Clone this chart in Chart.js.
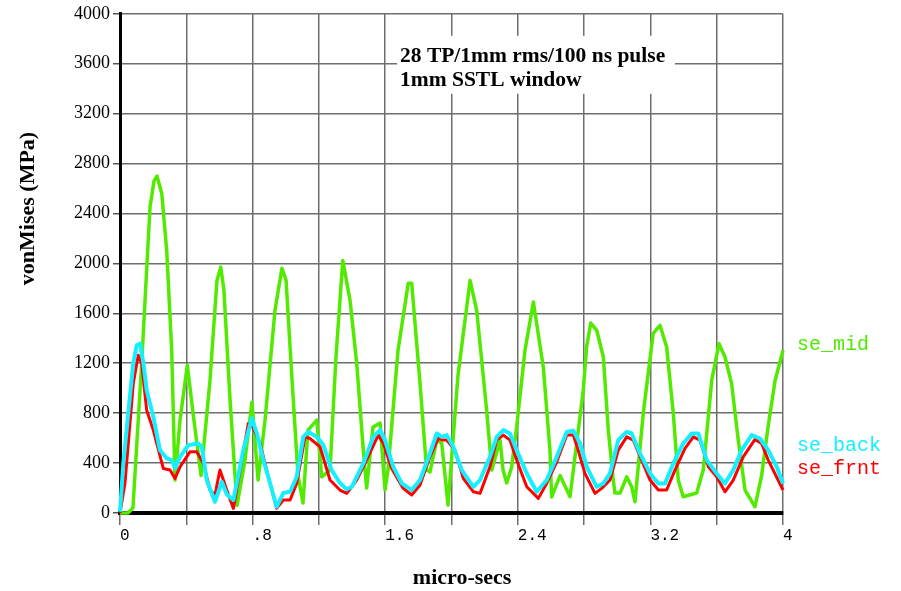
<!DOCTYPE html>
<html>
<head>
<meta charset="utf-8">
<script src="https://cdn.jsdelivr.net/npm/chart.js@4/dist/chart.umd.min.js"></script>
<style>
  html, body { margin: 0; padding: 0; background: #ffffff; }
  canvas { display: block; }
</style>
</head>
<body>
<canvas id="c" width="901" height="591"></canvas>
<script>
// Time axis (micro-secs) and von Mises stress (MPa) for each probe location.
const midT = [0, 0.048, 0.078, 0.131, 0.181, 0.205, 0.223, 0.252, 0.282, 0.312, 0.332, 0.362, 0.406, 0.446, 0.489,
  0.543, 0.585, 0.608, 0.627, 0.664, 0.706, 0.754, 0.796, 0.833, 0.875, 0.935, 0.977, 1.002, 1.038, 1.074, 1.104,
  1.134, 1.187, 1.217, 1.267, 1.303, 1.344, 1.388, 1.428, 1.468, 1.488, 1.526, 1.569, 1.599, 1.617, 1.677, 1.739,
  1.760, 1.810, 1.850, 1.870, 1.911, 1.941, 1.979, 2.039, 2.112, 2.152, 2.212, 2.243, 2.293, 2.311, 2.333, 2.363,
  2.393, 2.443, 2.494, 2.554, 2.594, 2.604, 2.655, 2.715, 2.765, 2.795, 2.815, 2.840, 2.876, 2.916, 2.946, 2.976,
  2.986, 3.017, 3.057, 3.087, 3.107, 3.157, 3.217, 3.258, 3.298, 3.338, 3.368, 3.398, 3.479, 3.519, 3.570, 3.614,
  3.650, 3.690, 3.730, 3.771, 3.831, 3.871, 3.911, 3.952, 4.000];
const midV = [0, 0, 40, 1200, 2450, 2660, 2700, 2560, 2100, 1300, 264, 744, 1184, 744, 300,
  1064, 1864, 1970, 1784, 904, 60, 424, 888, 264, 744, 1624, 1960, 1864, 1064, 300, 80,
  664, 744, 290, 344, 1250, 2024, 1704, 1200, 504, 200, 688, 720, 184, 344, 1300, 1840,
  1840, 1040, 344, 328, 584, 560, 64, 1100, 1864, 1624, 824, 344, 584, 344, 240, 368,
  688, 1300, 1690, 1168, 504, 128, 300, 130, 664, 984, 1330, 1522, 1464, 1250, 664, 264,
  160, 160, 290, 210, 90, 800, 1440, 1504, 1330, 800, 264, 130, 160, 344, 1064, 1357,
  1250, 1037, 584, 184, 50, 300, 700, 1060, 1304];

const backT = [0, 0.020, 0.050, 0.080, 0.101, 0.121, 0.141, 0.161, 0.201, 0.241, 0.282, 0.312, 0.332, 0.362, 0.412,
  0.472, 0.493, 0.523, 0.573, 0.614, 0.644, 0.684, 0.744, 0.795, 0.825, 0.865, 0.905, 0.945, 0.985, 1.026, 1.066,
  1.106, 1.136, 1.187, 1.227, 1.277, 1.327, 1.368, 1.398, 1.468, 1.528, 1.569, 1.599, 1.649, 1.700, 1.760, 1.810,
  1.870, 1.911, 1.941, 1.971, 2.011, 2.062, 2.132, 2.172, 2.232, 2.273, 2.313, 2.353, 2.393, 2.454, 2.514, 2.574,
  2.635, 2.695, 2.735, 2.775, 2.816, 2.876, 2.916, 2.956, 3.006, 3.057, 3.087, 3.137, 3.198, 3.248, 3.288, 3.338,
  3.398, 3.449, 3.489, 3.540, 3.600, 3.650, 3.700, 3.751, 3.811, 3.861, 3.911, 3.962, 4.000];
const backV = [10, 400, 800, 1200, 1344, 1357, 1200, 984, 770, 504, 437, 424, 360, 450, 544,
  557, 530, 264, 90, 250, 150, 104, 504, 760, 640, 424, 240, 50, 160, 170, 290,
  610, 650, 610, 544, 344, 240, 190, 210, 397, 610, 664, 584, 370, 237, 184, 264,
  477, 637, 610, 624, 530, 344, 210, 264, 450, 610, 664, 637, 504, 317, 170, 264,
  450, 650, 660, 560, 370, 210, 237, 317, 584, 650, 637, 477, 317, 237, 237, 397,
  557, 637, 637, 424, 317, 237, 344, 504, 624, 597, 504, 370, 237];

const frntT = [0, 0.030, 0.080, 0.110, 0.131, 0.161, 0.201, 0.261, 0.302, 0.332, 0.362, 0.422, 0.463, 0.503, 0.543,
  0.573, 0.603, 0.644, 0.684, 0.774, 0.795, 0.845, 0.885, 0.945, 0.985, 1.026, 1.066, 1.116, 1.146, 1.207, 1.267,
  1.327, 1.368, 1.428, 1.468, 1.558, 1.589, 1.639, 1.709, 1.760, 1.810, 1.870, 1.920, 1.951, 1.971, 2.021, 2.071,
  2.132, 2.172, 2.232, 2.273, 2.313, 2.353, 2.393, 2.454, 2.524, 2.574, 2.635, 2.695, 2.735, 2.765, 2.805, 2.866,
  2.906, 2.956, 3.006, 3.057, 3.097, 3.147, 3.198, 3.248, 3.298, 3.348, 3.409, 3.459, 3.499, 3.550, 3.600, 3.650,
  3.700, 3.760, 3.831, 3.871, 3.911, 4.000];
const frntV = [0, 240, 1037, 1264, 1197, 824, 664, 357, 344, 277, 370, 490, 490, 397, 184,
  144, 344, 184, 37, 717, 704, 557, 344, 37, 104, 104, 237, 610, 597, 530, 264,
  184, 157, 264, 370, 624, 557, 357, 197, 144, 224, 450, 597, 584, 584, 504, 277,
  170, 157, 370, 584, 624, 584, 424, 210, 117, 237, 410, 624, 624, 500, 317, 157,
  197, 264, 504, 610, 584, 424, 264, 184, 184, 344, 517, 610, 584, 370, 290, 170,
  264, 450, 590, 557, 424, 184];

const seriesNames = ['se_back', 'se_frnt', 'se_mid'];
const xTickLabels = ['0', '.8', '1.6', '2.4', '3.2', '4'];
const yTickLabels = ['0', '400', '800', '1200', '1600', '2000', '2400', '2800', '3200', '3600', '4000'];
const xTitle = 'micro-secs';
const yTitle = 'vonMises (MPa)';
const noteLines = ['28 TP/1mm rms/100 ns pulse', '1mm SSTL window'];

const GREEN = '#52ea00';
const CYAN = '#14f0ff';
const RED = '#ff0000';

const toPoints = (t, v) => t.map((x, i) => ({ x, y: v[i] }));

// Texts around the plot: axis titles, the note box and the series names.
const decorations = {
  id: 'decorations',
  beforeDatasetsDraw(chart) {
    const { ctx, chartArea: a } = chart;
    ctx.save();
    ctx.fillStyle = '#ffffff';
    ctx.fillRect(a.left + 277, a.top + 22, 278, 58);
    ctx.restore();
  },
  afterDatasetsDraw(chart) {
    const { ctx, chartArea: a } = chart;
    const ys = chart.scales.y;
    ctx.save();
    ctx.fillStyle = '#000000';
    ctx.textBaseline = 'alphabetic';
    ctx.textAlign = 'left';
    ctx.font = 'bold 21.5px "Liberation Serif", "Times New Roman", serif';
    ctx.fillText(noteLines[0], a.left + 280, a.top + 48);
    ctx.fillText(noteLines[1], a.left + 280, a.top + 72);

    // axis titles
    ctx.font = 'bold 22px "Liberation Serif", "Times New Roman", serif';
    ctx.textAlign = 'center';
    ctx.textBaseline = 'middle';
    ctx.fillText(xTitle, a.left + (a.right - a.left) * 0.516, a.bottom + 65);
    ctx.save();
    ctx.translate(a.left - 92, ys.getPixelForValue(2440));
    ctx.rotate(-Math.PI / 2);
    ctx.fillText(yTitle, 0, 0);
    ctx.restore();

    // series names at the right end
    ctx.font = '20px "Liberation Mono", "Courier New", monospace';
    ctx.textAlign = 'left';
    ctx.textBaseline = 'alphabetic';
    const lx = a.right + 14;
    ctx.fillStyle = GREEN;
    ctx.fillText(seriesNames[2], lx, ys.getPixelForValue(1310));
    ctx.fillStyle = CYAN;
    ctx.fillText(seriesNames[0], lx, ys.getPixelForValue(495));
    ctx.fillStyle = RED;
    ctx.fillText(seriesNames[1], lx, ys.getPixelForValue(310));
    ctx.restore();
  }
};

new Chart(document.getElementById('c'), {
  type: 'line',
  data: {
    datasets: [
      { label: seriesNames[0], data: toPoints(backT, backV), borderColor: CYAN, borderWidth: 4 },
      { label: seriesNames[1], data: toPoints(frntT, frntV), borderColor: RED, borderWidth: 3 },
      { label: seriesNames[2], data: toPoints(midT, midV), borderColor: GREEN, borderWidth: 3.5 }
    ]
  },
  options: {
    responsive: false,
    devicePixelRatio: 1,
    animation: false,
    layout: { padding: { top: 13, right: 118, left: 0, bottom: 0 } },
    elements: {
      point: { radius: 0 },
      line: { tension: 0, fill: false, borderJoinStyle: 'round' }
    },
    datasets: { line: { clip: false } },
    plugins: { legend: { display: false }, tooltip: { enabled: false } },
    scales: {
      x: {
        type: 'linear',
        min: 0,
        max: 4,
        afterFit(s) { s.height = 78; },
        border: { color: '#000000', width: 4 },
        grid: { color: '#6e6e6e', lineWidth: 1.5, tickLength: 12, tickColor: '#6e6e6e', tickWidth: 1.5 },
        ticks: {
          stepSize: 0.4,
          align: 'start',
          padding: 1,
          maxRotation: 0,
          autoSkip: false,
          color: '#000000',
          font: { family: '"Liberation Mono", "Courier New", monospace', size: 16 },
          callback: (v, i) => (i % 2 === 0 ? xTickLabels[i / 2] : '')
        }
      },
      y: {
        min: 0,
        max: 4000,
        afterFit(s) { s.width = 120; },
        border: { color: '#000000', width: 3 },
        grid: { color: '#6e6e6e', lineWidth: 1.5, tickLength: 7, tickColor: '#555555', tickWidth: 1.5 },
        ticks: {
          stepSize: 400,
          padding: 3,
          color: '#000000',
          font: { family: '"Liberation Serif", "Times New Roman", serif', size: 18 },
          callback: (v, i) => yTickLabels[i]
        }
      }
    }
  },
  plugins: [decorations]
});
</script>
</body>
</html>
